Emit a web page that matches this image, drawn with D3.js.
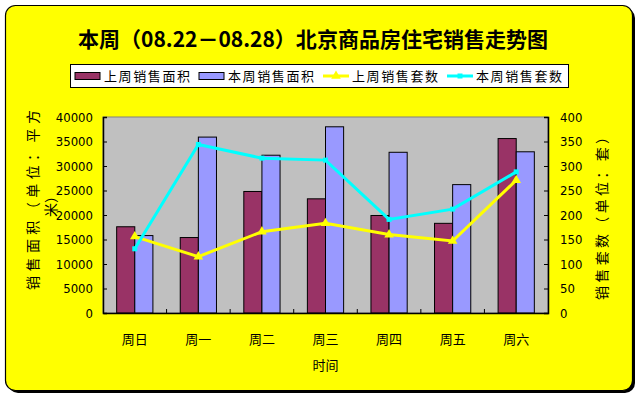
<!DOCTYPE html>
<html><head><meta charset="utf-8">
<script src="https://cdn.jsdelivr.net/npm/d3@7"></script>
<style>
html,body{margin:0;padding:0;background:#fff;}
svg{display:block;}
</style></head>
<body>
<svg id="c" width="640" height="400"></svg>
<script>
const categories = ["周日","周一","周二","周三","周四","周五","周六"];
const lastWeekArea = [17600,15400,24800,23300,19900,18300,35600];
const thisWeekArea = [15800,35900,32200,38000,32800,26200,32900];
const lastWeekCount = [156,115,166,183,160,147,271];
const thisWeekCount = [131,344,316,312,191,212,288];
const leftTicks = [0,5000,10000,15000,20000,25000,30000,35000,40000];
const rightTicks = [0,50,100,150,200,250,300,350,400];
const seriesNames = ["上周销售面积","本周销售面积","上周销售套数","本周销售套数"];
const titleText = "本周（08.22－08.28）北京商品房住宅销售走势图";

const svg = d3.select("#c");
const cjk = "'Noto Sans CJK SC','Noto Sans',sans-serif";
const num = "'Liberation Sans Narrow','DejaVu Sans Condensed','Liberation Sans',sans-serif";

// frame
svg.append("rect").attr("x",8).attr("y",8).attr("width",627).attr("height",385).attr("rx",10).attr("fill","#000");
svg.append("rect").attr("x",5.5).attr("y",5.5).attr("width",627).attr("height",385).attr("rx",10)
  .attr("fill","#FFFF00").attr("stroke","#000").attr("stroke-width",1.2);

// title
svg.append("text").attr("x",313).attr("y",47).attr("text-anchor","middle")
  .attr("font-family",cjk).attr("font-weight","bold").attr("font-size",21)
  .attr("textLength",470).attr("lengthAdjust","spacingAndGlyphs")
  .text(titleText);

const m = {l:103, r:548, t:117, b:313};
const x = d3.scaleBand().domain(categories).range([m.l,m.r]);
const yL = d3.scaleLinear().domain([0,40000]).range([m.b,m.t]);
const yR = d3.scaleLinear().domain([0,400]).range([m.b,m.t]);

// plot area
svg.append("rect").attr("x",m.l).attr("y",m.t).attr("width",m.r-m.l).attr("height",m.b-m.t)
  .attr("fill","#C0C0C0").attr("stroke","#808080").attr("stroke-width",1);

const bw = x.bandwidth()*0.285;
const colors = ["#993366","#9999FF","#FFFF00","#00FFFF"];
const g = svg.append("g");
g.selectAll(".b1").data(categories).join("rect")
  .attr("x",d=>x(d)+x.bandwidth()/2-bw).attr("width",bw)
  .attr("y",(d,i)=>yL(lastWeekArea[i])).attr("height",(d,i)=>m.b-yL(lastWeekArea[i]))
  .attr("fill",colors[0]).attr("stroke","#000").attr("stroke-width",1);
g.selectAll(".b2").data(categories).join("rect")
  .attr("x",d=>x(d)+x.bandwidth()/2).attr("width",bw)
  .attr("y",(d,i)=>yL(thisWeekArea[i])).attr("height",(d,i)=>m.b-yL(thisWeekArea[i]))
  .attr("fill",colors[1]).attr("stroke","#000").attr("stroke-width",1);

// axes
const axL = d3.axisLeft(yL).tickValues(leftTicks).tickSize(-4).tickPadding(10).tickFormat(d3.format("d"));
const gl = svg.append("g").attr("transform",`translate(${m.l},0)`).call(axL);
const axR = d3.axisRight(yR).tickValues(rightTicks).tickSize(-4).tickPadding(12).tickFormat(d3.format("d"));
const gr = svg.append("g").attr("transform",`translate(${m.r},0)`).call(axR);
const axB = d3.axisBottom(x).tickSize(0).tickPadding(22);
const gb = svg.append("g").attr("transform",`translate(0,${m.b})`).call(axB);
[gl,gr].forEach(a=>{
  a.selectAll("text").attr("font-family",num).attr("font-size",13).attr("fill","#000");
  a.selectAll("line").attr("stroke","#000");
  a.select(".domain").attr("stroke","#000").attr("stroke-width",1.5);
});
gb.select(".domain").attr("stroke","#000").attr("stroke-width",1.5);
gb.selectAll("text").attr("font-family",cjk).attr("font-size",13).attr("fill","#000");
// category separators (inward ticks)
svg.append("g").selectAll("line").data(categories.slice(1)).join("line")
  .attr("x1",d=>x(d)).attr("x2",d=>x(d)).attr("y1",m.b).attr("y2",m.b-4).attr("stroke","#000");

// lines
const lineGen = d3.line().x(d=>x(d[0])+x.bandwidth()/2).y(d=>yR(d[1]));
const yd = categories.map((c,i)=>[c,lastWeekCount[i]]);
const cd = categories.map((c,i)=>[c,thisWeekCount[i]]);
svg.append("path").datum(yd).attr("d",lineGen).attr("fill","none").attr("stroke",colors[2]).attr("stroke-width",3);
svg.append("path").datum(cd).attr("d",lineGen).attr("fill","none").attr("stroke",colors[3]).attr("stroke-width",3);
const tri = d3.symbol().type(d3.symbolTriangle).size(40);
svg.append("g").selectAll("path").data(yd).join("path")
  .attr("transform",d=>`translate(${x(d[0])+x.bandwidth()/2},${yR(d[1])})`).attr("d",tri).attr("fill",colors[2]);
svg.append("g").selectAll("rect").data(cd).join("rect")
  .attr("x",d=>x(d[0])+x.bandwidth()/2-2.5).attr("y",d=>yR(d[1])-2.5).attr("width",5).attr("height",5).attr("fill",colors[3]);

// axis titles
svg.append("text").attr("transform","translate(38,200) rotate(-90)").attr("text-anchor","middle")
  .attr("font-family",cjk).attr("font-size",14).attr("textLength",180).attr("lengthAdjust","spacing")
  .text("销售面积（单位：平方");
svg.append("text").attr("transform","translate(56,203) rotate(-90)").attr("text-anchor","middle")
  .attr("font-family",cjk).attr("font-size",14)
  .text("米）");
svg.append("text").attr("transform","translate(607,215) rotate(-90)").attr("text-anchor","middle")
  .attr("font-family",cjk).attr("font-size",14).attr("textLength",170).attr("lengthAdjust","spacing")
  .text("销售套数（单位：套）");
svg.append("text").attr("x",(m.l+m.r)/2).attr("y",370).attr("text-anchor","middle")
  .attr("font-family",cjk).attr("font-size",13).text("时间");

// legend
svg.append("rect").attr("x",70.5).attr("y",64.5).attr("width",498).attr("height",23).attr("fill","#fff").attr("stroke","#000");
const lg = svg.append("g").selectAll("g").data(seriesNames).join("g")
  .attr("transform",(d,i)=>`translate(${75+i*124},76)`);
lg.each(function(d,i){
  const s = d3.select(this);
  if(i<2){
    s.append("rect").attr("x",0).attr("y",-3.5).attr("width",25).attr("height",7).attr("fill",colors[i]).attr("stroke","#000");
  } else {
    s.append("line").attr("x1",0).attr("x2",26).attr("y1",0).attr("y2",0).attr("stroke",colors[i]).attr("stroke-width",3);
    if(i===2) s.append("path").attr("transform","translate(13,0)").attr("d",tri).attr("fill",colors[i]);
    else s.append("rect").attr("x",10.5).attr("y",-2.5).attr("width",5).attr("height",5).attr("fill",colors[i]);
  }
  s.append("text").attr("x",29).attr("y",5).attr("font-family",cjk).attr("font-size",13)
    .attr("textLength",86).attr("lengthAdjust","spacing").text(d);
});
</script>
</body></html>
